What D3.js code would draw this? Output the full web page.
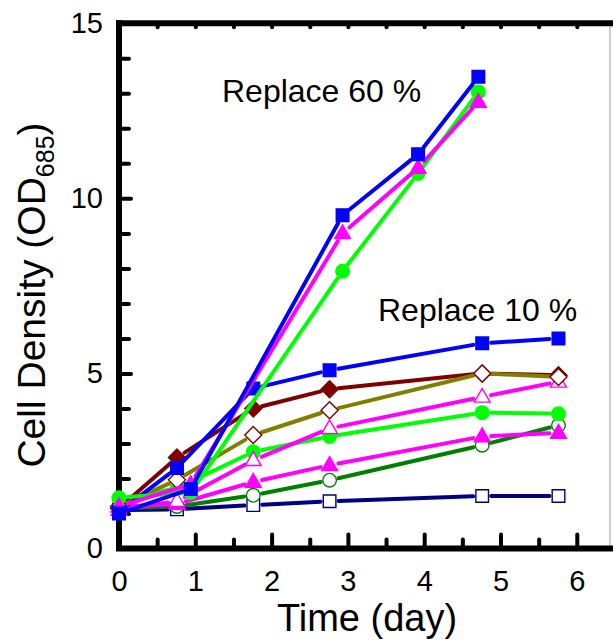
<!DOCTYPE html>
<html>
<head>
<meta charset="utf-8">
<script src="https://cdn.jsdelivr.net/npm/d3@7"></script>
<style>
  html, body { margin: 0; padding: 0; background: #fff; }
  svg { display: block; font-family: "Liberation Sans", Arial, sans-serif; }
</style>
</head>
<body>
<svg id="chart" width="613" height="642"></svg>
<script>
// ---------- data ----------
const days60 = [0, 0.94, 2.93, 3.92, 4.71];
const days10 = [0, 0.76, 1.76, 2.76, 4.76, 5.76];

const blue60  = [1.0, 1.7, 9.52, 11.26, 13.47];
const mag60   = [1.2, 1.84, 9.0, 10.87, 12.75];
const green60 = [1.45, 1.6, 7.92, 10.71, 13.04];

const navy10    = [1.1, 1.12, 1.24, 1.35, 1.5, 1.5];
const dgreen10  = [1.15, 1.2, 1.52, 1.95, 2.95, 3.52];
const magFill10 = [1.2, 1.27, 1.9, 2.38, 3.2, 3.3];
const green10   = [1.42, 1.72, 2.76, 3.2, 3.88, 3.85];
const magOpen10 = [1.1, 1.35, 2.52, 3.43, 4.33, 4.76];
const darkred10 = [1.15, 2.6, 4.0, 4.55, 5.0, 4.95];
const olive10   = [1.2, 1.96, 3.24, 3.95, 5.0, 4.9];
const blue10    = [1.05, 2.3, 4.57, 5.09, 5.86, 6.0];

const xMajorTicks = [0, 1, 2, 3, 4, 5, 6];
const yMajorTicks = [0, 5, 10, 15];
const annotations = ["Replace 60 %", "Replace 10 %"];

// series definitions
const series = [
  { x: days10, y: navy10,    line: "#000080", shape: "square",   fill: "#fff",    stroke: "#000080" },
  { x: days10, y: dgreen10,  line: "#008000", shape: "circle",   fill: "#fff",    stroke: "#008000" },
  { x: days10, y: magFill10, line: "#ff00ff", shape: "triangle", fill: "#ff00ff", stroke: "#ff00ff" },
  { x: days10, y: green10,   line: "#00ff00", shape: "circle",   fill: "#00ff00", stroke: "#00ff00" },
  { x: days10, y: magOpen10, line: "#ff00ff", shape: "triangle", fill: "#fff",    stroke: "#ff00ff" },
  { x: days10, y: darkred10, line: "#800000", shape: "diamond",  fill: "#800000", stroke: "#800000" },
  { x: days10, y: olive10,   line: "#808000", shape: "diamond",  fill: "#fff",    stroke: "#800000" },
  { x: days10, y: blue10,    line: "#0000ff", shape: "square",   fill: "#0000ff", stroke: "#0000ff" },
  { x: days60, y: green60,   line: "#00ff00", shape: "circle",   fill: "#00ff00", stroke: "#00ff00" },
  { x: days60, y: mag60,     line: "#ff00ff", shape: "triangle", fill: "#ff00ff", stroke: "#ff00ff" },
  { x: days60, y: blue60,    line: "#0000ff", shape: "square",   fill: "#0000ff", stroke: "#0000ff" }
];

// ---------- layout ----------
const svg = d3.select("#chart");
const x = d3.scaleLinear().domain([0, 6.5]).range([119, 119 + 6.5 * 76.3]);
const y = d3.scaleLinear().domain([0, 15]).range([548.5, 23.3]);

// thin right edge
svg.append("line").attr("x1", 610).attr("x2", 610).attr("y1", y(15)).attr("y2", y(0))
  .attr("stroke", "#a0a0a0").attr("stroke-width", 1);

function styleAxis(g, tickW) {
  g.select(".domain").remove();
  g.selectAll(".tick line").attr("stroke", "#000").attr("stroke-width", tickW).attr("stroke-linecap", "round");
  g.selectAll(".tick text").attr("fill", "#000").style("font-size", "29px")
    .style("font-family", '"Liberation Sans", Arial, sans-serif');
}

// bottom minor + major
const xMinor = d3.range(0.5, 6.5, 1);
svg.append("g").attr("transform", `translate(0,${y(0)})`)
  .call(d3.axisBottom(x).tickValues(xMinor).tickSize(-9).tickFormat(""))
  .call(g => styleAxis(g, 4));
svg.append("g").attr("transform", `translate(0,${y(0)})`)
  .call(d3.axisBottom(x).tickValues(xMajorTicks).tickSize(-14).tickPadding(22).tickFormat(d3.format("d")))
  .call(g => styleAxis(g, 4))
  .call(g => g.selectAll(".tick text").attr("dy", "0.71em").attr("y", 22));

// left minor + major
const yMinor = d3.range(0, 16, 1).filter(v => v % 5 !== 0);
svg.append("g").attr("transform", `translate(${x(0)},0)`)
  .call(d3.axisLeft(y).tickValues(yMinor).tickSize(-10).tickFormat(""))
  .call(g => styleAxis(g, 4));
svg.append("g").attr("transform", `translate(${x(0)},0)`)
  .call(d3.axisLeft(y).tickValues(yMajorTicks).tickSize(-12).tickPadding(16).tickFormat(d3.format("d")))
  .call(g => styleAxis(g, 4));

// top minor ticks
svg.append("g").attr("transform", `translate(0,${y(15)})`)
  .call(d3.axisTop(x).tickValues(d3.range(0.5, 6.5, 0.5)).tickSize(-4).tickFormat(""))
  .call(g => styleAxis(g, 4));

// frame lines (thick)
const frame = svg.append("g").attr("stroke", "#000").attr("stroke-width", 6).attr("fill", "none");
frame.append("path").attr("d", `M${x(0)},${y(15)-3}V${y(0)}`);
frame.append("path").attr("d", `M${x(0)-3},${y(0)}H613`);
frame.append("path").attr("d", `M${x(0)-3},${y(15)}H613`);

// ---------- series ----------
function markerPath(shape) {
  const p = d3.path();
  if (shape === "square") { const s = 6.3; p.rect(-s, -s, 2 * s, 2 * s); }
  else if (shape === "circle") { p.arc(0, 0, 6.8, 0, 2 * Math.PI); }
  else if (shape === "triangle") { const r = 8.5; p.moveTo(0, -r); p.lineTo(r * 0.93, r * 0.62); p.lineTo(-r * 0.93, r * 0.62); p.closePath(); }
  else if (shape === "diamond") { const r = 8.5; p.moveTo(0, -r); p.lineTo(r, 0); p.lineTo(0, r); p.lineTo(-r, 0); p.closePath(); }
  return p.toString();
}

const gap = 9;
series.forEach(s => {
  const pts = s.x.map((d, i) => [x(d), y(s.y[i])]);
  const g = svg.append("g");
  for (let i = 0; i < pts.length - 1; i++) {
    const [x1, y1] = pts[i], [x2, y2] = pts[i + 1];
    const len = Math.hypot(x2 - x1, y2 - y1);
    if (len <= 2 * gap) continue;
    const ux = (x2 - x1) / len, uy = (y2 - y1) / len;
    g.append("line")
      .attr("x1", x1 + ux * gap).attr("y1", y1 + uy * gap)
      .attr("x2", x2 - ux * gap).attr("y2", y2 - uy * gap)
      .attr("stroke", s.line).attr("stroke-width", 4).attr("stroke-linecap", "round");
  }
  g.selectAll("path.m").data(pts).join("path").attr("class", "m")
    .attr("transform", d => `translate(${d[0]},${d[1]})`)
    .attr("d", markerPath(s.shape))
    .attr("fill", s.fill).attr("stroke", s.stroke).attr("stroke-width", 1.4);
});

// ---------- text ----------
svg.append("text").attr("x", 222).attr("y", 102).text(annotations[0])
  .style("font-size", "32px").attr("fill", "#000");
svg.append("text").attr("x", 378).attr("y", 321).text(annotations[1])
  .style("font-size", "32px").attr("fill", "#000");

svg.append("text").attr("x", 367).attr("y", 631).attr("text-anchor", "middle")
  .style("font-size", "38px").attr("fill", "#000").text("Time (day)");

const yt = svg.append("text").attr("transform", `translate(45,295) rotate(-90)`)
  .attr("text-anchor", "middle").style("font-size", "39px").attr("fill", "#000");
yt.append("tspan").text("Cell Density (OD");
yt.append("tspan").attr("dy", 9).style("font-size", "25px").text("685");
yt.append("tspan").attr("dy", -9).text(")");
</script>
</body>
</html>
